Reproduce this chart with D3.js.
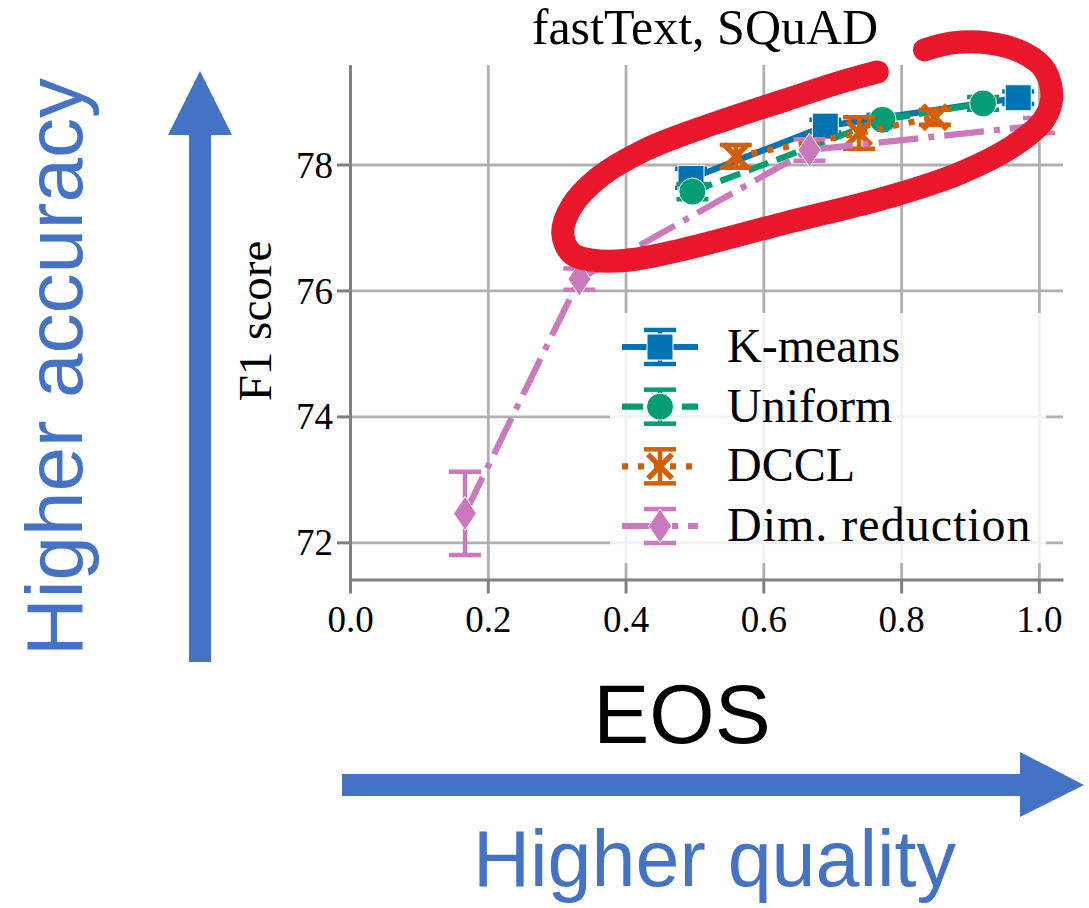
<!DOCTYPE html>
<html><head><meta charset="utf-8">
<script src="https://cdn.jsdelivr.net/npm/d3@7"></script>
<style>body{margin:0;background:#fff}svg{display:block}</style>
</head><body>
<script>
// ---- data ----
const title = "fastText, SQuAD";
const xLabel = "EOS";
const yLabel = "F1 score";
const xTicks = [0.0, 0.2, 0.4, 0.6, 0.8, 1.0];
const yTicks = [72, 74, 76, 78];
const seriesNames = ["K-means", "Uniform", "DCCL", "Dim. reduction"];

const kmeansEOS = [0.495, 0.69, 0.97];
const kmeansF1  = [77.78, 78.61, 79.06];
const kmeansErr = [0.15, 0.10, 0.10];

const uniformEOS = [0.497, 0.773, 0.919];
const uniformF1  = [77.57, 78.71, 78.97];
const uniformErr = [0.12, 0.08, 0.10];

const dcclEOS = [0.56, 0.739, 0.849];
const dcclF1  = [78.13, 78.50, 78.75];
const dcclErr = [0.18, 0.25, 0.12];

const dimEOS = [0.167, 0.333, 0.667, 1.0];
const dimF1  = [72.46, 76.18, 78.23, 78.62];
const dimErr = [0.66, 0.17, 0.17, 0.12];

// hand-drawn highlight loop, in data coordinates (EOS, F1)
const loopEOS = [0.7655,0.7068,0.631,0.5295,0.428,0.362,0.3215,0.3088,0.3215,0.3518,0.4026,0.479,0.631,0.7833,0.8848,0.9608,1.0065,1.0187,1.0085,0.978,0.9254,0.8746,0.834];
const loopF1  = [79.47,79.29,79.02,78.655,78.23,77.80,77.33,76.91,76.59,76.48,76.48,76.64,77.07,77.49,77.86,78.28,78.70,79.07,79.50,79.77,79.93,79.93,79.82];

// ---- styles ----
const colors = ["#0173b2", "#029e73", "#d55e00", "#cc78bc"];
const dashes = [null, "21,9", "6,10", "40,10,6,10"];
const symbols = ["square", "circle", "x", "diamond"];
const arrowBlue = "#4472c4";

const series = [
  {eos: kmeansEOS, f1: kmeansF1, err: kmeansErr},
  {eos: uniformEOS, f1: uniformF1, err: uniformErr},
  {eos: dcclEOS, f1: dcclF1, err: dcclErr},
  {eos: dimEOS, f1: dimF1, err: dimErr}
].map((s, i) => ({...s, name: seriesNames[i], color: colors[i], dash: dashes[i], symbol: symbols[i],
  pts: s.eos.map((e, j) => ({x: e, y: s.f1[j], e: s.err[j]}))}));

const W = 1089, H = 908;
const pL = 350, pR = 1063, pT = 65, pB = 579.5;
const x = d3.scaleLinear().domain([0, 1.035]).range([pL, pR]);
const y = d3.scaleLinear().domain([71.41, 79.58]).range([pB, pT]);

const svg = d3.select("body").append("svg").attr("width", W).attr("height", H);
svg.append("rect").attr("width", W).attr("height", H).attr("fill", "#fff");

const serif = "'Liberation Serif', 'Times New Roman', serif";
const sans = "'Liberation Sans', Arial, sans-serif";

// grid
const gx = svg.append("g").attr("transform", `translate(0,${pB})`)
  .call(d3.axisBottom(x).tickValues(xTicks).tickSize(-(pB - pT)).tickFormat(""));
gx.select(".domain").remove();
gx.selectAll("line").attr("stroke", "#b0b0b0").attr("stroke-width", 2.8);
const gy = svg.append("g").attr("transform", `translate(${pL},0)`)
  .call(d3.axisLeft(y).tickValues(yTicks).tickSize(-(pR - pL)).tickFormat(""));
gy.select(".domain").remove();
gy.selectAll("line").attr("stroke", "#b0b0b0").attr("stroke-width", 2.8);

// axes
const ax = svg.append("g").attr("transform", `translate(0,${pB})`)
  .call(d3.axisBottom(x).tickValues(xTicks).tickSize(14).tickSizeOuter(0).tickPadding(10).tickFormat(d3.format(".1f")));
ax.select(".domain").attr("stroke", "#808080").attr("stroke-width", 3);
ax.selectAll(".tick line").attr("stroke", "#808080").attr("stroke-width", 3);
ax.selectAll("text").attr("font-family", serif).attr("font-size", 37).attr("fill", "#000").attr("dy", "0.78em");

const ay = svg.append("g").attr("transform", `translate(${pL},0)`)
  .call(d3.axisLeft(y).tickValues(yTicks).tickSize(13).tickSizeOuter(0).tickPadding(4).tickFormat(d3.format("d")));
ay.select(".domain").attr("stroke", "#808080").attr("stroke-width", 3);
ay.selectAll(".tick line").attr("stroke", "#808080").attr("stroke-width", 3);
ay.selectAll("text").attr("font-family", serif).attr("font-size", 37).attr("fill", "#000").attr("dy", "0.34em");

// title and y label
svg.append("text").attr("x", 705).attr("y", 44).attr("text-anchor", "middle")
  .attr("font-family", serif).attr("font-size", 50).text(title);
svg.append("text").attr("transform", "translate(271,321) rotate(-90)").attr("text-anchor", "middle")
  .attr("font-family", serif).attr("font-size", 47).text(yLabel);

// marker drawing
function marker(g, sym, cx, cy, color) {
  if (sym === "square") {
    g.append("rect").attr("x", cx - 13).attr("y", cy - 13).attr("width", 26).attr("height", 26)
      .attr("fill", color).attr("stroke", "#fff").attr("stroke-width", 1);
  } else if (sym === "circle") {
    g.append("circle").attr("cx", cx).attr("cy", cy).attr("r", 13.5)
      .attr("fill", color).attr("stroke", "#fff").attr("stroke-width", 1);
  } else if (sym === "x") {
    g.append("path").attr("d", `M${cx-12},${cy-12}L${cx+12},${cy+12}M${cx-12},${cy+12}L${cx+12},${cy-12}`)
      .attr("stroke", color).attr("stroke-width", 5.5).attr("fill", "none");
  } else {
    g.append("path").attr("d", `M${cx},${cy-17}L${cx+11.5},${cy}L${cx},${cy+17}L${cx-11.5},${cy}Z`)
      .attr("fill", color).attr("stroke", "#fff").attr("stroke-width", 1);
  }
}
function errbar(g, cx, y0, y1, color) {
  g.append("line").attr("x1", cx).attr("x2", cx).attr("y1", y0).attr("y2", y1)
    .attr("stroke", color).attr("stroke-width", 4.5);
  [y0, y1].forEach(v => g.append("line").attr("x1", cx - 16).attr("x2", cx + 16).attr("y1", v).attr("y2", v)
    .attr("stroke", color).attr("stroke-width", 4.5));
}

const line = d3.line().x(d => x(d.x)).y(d => y(d.y));
series.forEach(s => {
  const g = svg.append("g");
  g.append("path").datum(s.pts).attr("d", line).attr("fill", "none")
    .attr("stroke", s.color).attr("stroke-width", 6.2).attr("stroke-dasharray", s.dash);
  s.pts.forEach(p => errbar(g, x(p.x), y(p.y + p.e), y(p.y - p.e), s.color));
  s.pts.forEach(p => marker(g, s.symbol, x(p.x), y(p.y), s.color));
});

// legend
const lg = svg.append("g");
lg.append("rect").attr("x", 610).attr("y", 313).attr("width", 436).attr("height", 250).attr("rx", 6)
  .attr("fill", "#fff").attr("fill-opacity", 0.82);
const rowY = d3.scalePoint().domain(seriesNames).range([347, 526]);
series.forEach(s => {
  const cy = rowY(s.name);
  lg.append("line").attr("x1", 622).attr("x2", 698).attr("y1", cy).attr("y2", cy)
    .attr("stroke", s.color).attr("stroke-width", 6.2).attr("stroke-dasharray", s.dash);
  errbar(lg, 660, cy - 17, cy + 17, s.color);
  marker(lg, s.symbol, 660, cy, s.color);
  lg.append("text").attr("x", 727).attr("y", cy + 15).attr("font-family", serif)
    .attr("font-size", 48).attr("letter-spacing", s.name.length > 10 ? 1 : 0).text(s.name);
});

// red highlight loop
const loopPts = loopEOS.map((e, i) => ({x: e, y: loopF1[i]}));
svg.append("path").datum(loopPts)
  .attr("d", d3.line().x(d => x(d.x)).y(d => y(d.y)).curve(d3.curveCatmullRom.alpha(0.5)))
  .attr("fill", "none").attr("stroke", "#e8172b").attr("stroke-width", 23)
  .attr("stroke-linecap", "round").attr("stroke-linejoin", "round");

// annotation arrows and texts
svg.append("path").attr("d", "M189,662L189,135L168,135L200,71L232,135L211,135L211,662Z").attr("fill", arrowBlue);
svg.append("path").attr("d", "M342,774L1020,774L1020,752L1084,785L1020,817L1020,796L342,796Z").attr("fill", arrowBlue);
svg.append("text").attr("transform", "translate(82,656) rotate(-90)").attr("font-family", sans)
  .attr("font-size", 80).attr("fill", arrowBlue).text("Higher accuracy");
svg.append("text").attr("x", 682).attr("y", 743).attr("text-anchor", "middle").attr("font-family", sans)
  .attr("font-size", 84).attr("fill", "#000").text(xLabel);
svg.append("text").attr("x", 473).attr("y", 886).attr("font-family", sans)
  .attr("font-size", 79).attr("fill", arrowBlue).text("Higher quality");
</script>
</body></html>
